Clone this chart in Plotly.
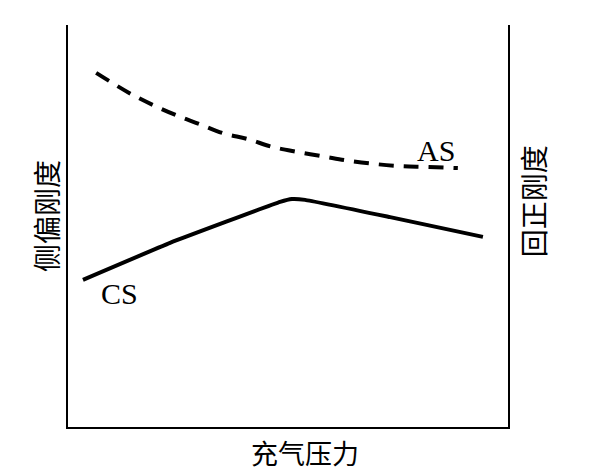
import plotly.graph_objects as go

# schematic values (arbitrary units, axes 0-10)
as_x = [0.64, 1.39, 1.93, 2.45, 2.98, 3.52, 4.09, 4.64, 5.23, 5.86, 6.41, 7.0, 7.57, 8.14, 8.86]
as_y = [8.81, 8.31, 8.01, 7.76, 7.54, 7.31, 7.16, 6.97, 6.84, 6.72, 6.62, 6.54, 6.49, 6.47, 6.44]

cs_x = [0.34, 2.32, 4.82, 5.09, 5.39, 7.32, 9.43]
cs_y = [3.66, 4.58, 5.60, 5.67, 5.65, 5.22, 4.73]

x_title = '充气压力'
left_title = '侧偏刚度'
right_title = '回正刚度'

cjk = 'Noto Sans CJK SC'
serif = 'Liberation Serif'

fig = go.Figure()
fig.add_trace(go.Scatter(x=cs_x, y=cs_y, mode='lines',
                         line=dict(color='black', width=4, shape='spline', smoothing=0.3),
                         showlegend=False))
fig.add_trace(go.Scatter(x=as_x, y=as_y, mode='lines', yaxis='y2',
                         line=dict(color='black', width=4, dash='15px,10px', shape='spline'),
                         showlegend=False))

axis_style = dict(range=[0, 10], showgrid=False, zeroline=False, showticklabels=False,
                  ticks='', showline=True, linecolor='black', linewidth=2)

label = dict(showarrow=False, xanchor='center', yanchor='middle')

# page body adds an 8px offset, so the figure is a bit smaller than the window
fig.update_layout(
    width=592, height=464,
    margin=dict(l=60, r=92, t=17, b=45),
    paper_bgcolor='white', plot_bgcolor='white',
    xaxis=axis_style,
    yaxis=axis_style,
    yaxis2=dict(axis_style, overlaying='y', side='right'),
    annotations=[
        dict(label, text='AS', x=8.36, y=6.89, xref='x', yref='y',
             font=dict(family=serif, size=30, color='black')),
        dict(label, text='CS', x=1.18, y=3.33, xref='x', yref='y',
             font=dict(family=serif, size=30, color='black')),
        dict(label, text=x_title, x=0.539, y=-0.064, xref='paper', yref='paper',
             font=dict(family=cjk, size=27, color='black')),
        dict(label, text=left_title, x=-0.05, y=0.525, xref='paper', yref='paper',
             textangle=-90, font=dict(family=cjk, size=28, color='black')),
        dict(label, text=right_title, x=1.057, y=0.562, xref='paper', yref='paper',
             textangle=-90, font=dict(family=cjk, size=28, color='black')),
    ],
)

fig.write_html('out.html')
